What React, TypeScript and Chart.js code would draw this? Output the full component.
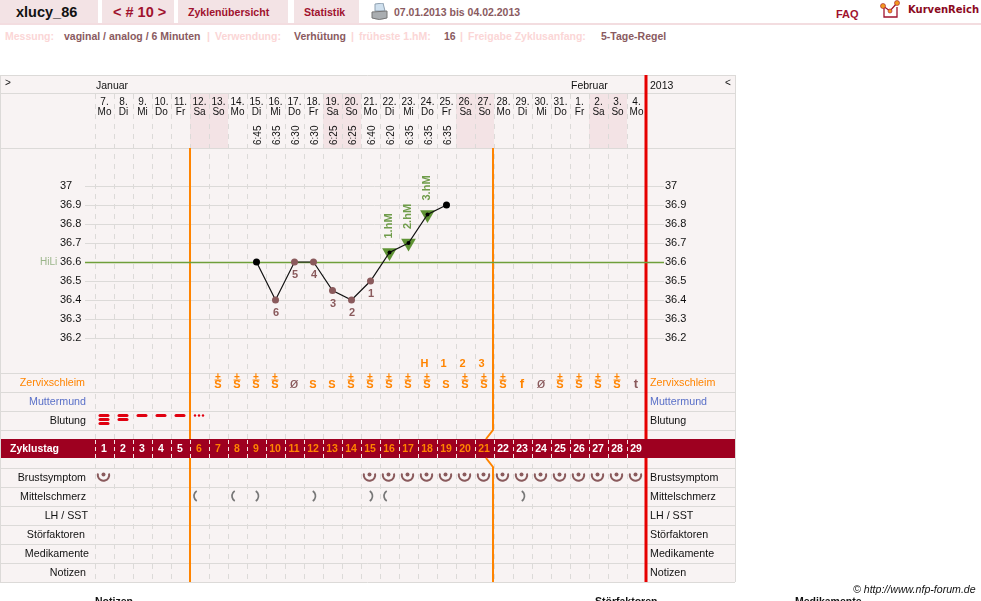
import React, { useEffect, useRef } from "react";
import { Chart, registerables } from "chart.js";

Chart.register(...registerables);

const dateDays = ["7.","8.","9.","10.","11.","12.","13.","14.","15.","16.","17.","18.","19.","20.","21.","22.","23.","24.","25.","26.","27.","28.","29.","30.","31.","1.","2.","3.","4."];
const weekdays = ["Mo","Di","Mi","Do","Fr","Sa","So","Mo","Di","Mi","Do","Fr","Sa","So","Mo","Di","Mi","Do","Fr","Sa","So","Mo","Di","Mi","Do","Fr","Sa","So","Mo"];
const times = ["","","","","","","","","6:45","6:35","6:30","6:30","6:25","6:25","6:40","6:20","6:35","6:35","6:35","","","","","","","","","",""];
const temps: (number|null)[] = [null,null,null,null,null,null,null,null,36.6,36.4,36.6,36.6,36.45,36.4,36.5,36.65,36.7,36.85,36.9,null,null,null,null,null,null,null,null,null,null];
const pointKinds = ["","","","","","","","","k","m","m","m","m","m","m","k","k","k","k","","","","","","","","","",""];
const lowLabels = ["","","","","","","","","","6","5","4","3","2","1","","","","","","","","","","","","","",""];
const peakTemps: (number|null)[] = [null,null,null,null,null,null,null,null,null,null,null,null,null,null,null,36.65,36.7,36.85,null,null,null,null,null,null,null,null,null,null,null];
const peakLabels = ["","","","","","","","","","","","","","","","1.hM","2.hM","3.hM","","","","","","","","","","",""];
const mucusCodes = ["","","","","","","S+","S+","S+","S+","ø","S","S","S+","S+","S+","S+","S+","S","S+","S+","S+","f","ø","S+","S+","S+","S+","t"];
const peakRow = ["","","","","","","","","","","","","","","","","","H","1","2","3","","","","","","","",""];
const bleeding = [3,2,1,1,1,-1,0,0,0,0,0,0,0,0,0,0,0,0,0,0,0,0,0,0,0,0,0,0,0];
const breast = [1,0,0,0,0,0,0,0,0,0,0,0,0,0,1,1,1,1,1,1,1,1,1,1,1,1,1,1,1];
const midPain = ["","","","","","(","","(",")","","",")","","",")","(","","","","","","",")","","","","","",""];
const cycleDays = ["1","2","3","4","5","6","7","8","9","10","11","12","13","14","15","16","17","18","19","20","21","22","23","24","25","26","27","28","29"];
const temperatureTicks = [36.2,36.3,36.4,36.5,36.6,36.7,36.8,36.9,37];
const coverLine = 36.6;
const weekendDays = ["Sa","So"];
const rowLinesY = [75,93,148,373,392,411,430,468,487,506,525,544,563,582];
const leftRows: [string,number,string,number][] = [["Zervixschleim",382,"#ff8400",85],["Muttermund",401,"#5a70c8",86],["Blutung",420,"#111",86],["Brustsymptom",477,"#111",86],["Mittelschmerz",496,"#111",86],["LH / SST",515,"#111",88],["Störfaktoren",534,"#111",85],["Medikamente",553,"#111",89],["Notizen",572,"#111",86]];

const ORANGE = "#ff8400";
const BAND = "#9e0020";
const RED = "#e60000";
const GRID = "#dcdad8";
const PANEL = "#f8f3f3";
const WEEKEND = "#f3e3e5";
const BROWN = "#8a5a5c";
const GREEN = "#5f9334";
const ARIAL = "'Liberation Sans', Arial, sans-serif";

const tablePlugin = {
  id: "table",
  beforeDraw(chart: any) {
    const { ctx, scales } = chart;
    const x = scales.x;
    const y = scales.y;
    const colW = x.getPixelForValue(1) - x.getPixelForValue(0);
    const L = x.left;
    const R = x.right;
    ctx.save();
    ctx.fillStyle = PANEL;
    ctx.fillRect(0, 75, 735, 507);
    weekdays.forEach((d, i) => {
      if (weekendDays.includes(d)) {
        ctx.fillStyle = WEEKEND;
        ctx.fillRect(x.getPixelForValue(i) - colW / 2, 94, colW, 54);
      }
    });
    ctx.strokeStyle = GRID;
    ctx.lineWidth = 1;
    rowLinesY.forEach((ry) => {
      ctx.beginPath();
      ctx.moveTo(0, ry + 0.5);
      ctx.lineTo(735, ry + 0.5);
      ctx.stroke();
    });
    ctx.beginPath();
    ctx.moveTo(0.5, 75); ctx.lineTo(0.5, 582);
    ctx.moveTo(735.5, 75); ctx.lineTo(735.5, 582);
    ctx.stroke();
    temperatureTicks.forEach((v) => {
      const py = Math.round(y.getPixelForValue(v)) + 0.5;
      ctx.beginPath();
      ctx.moveTo(85, py);
      ctx.lineTo(664, py);
      ctx.stroke();
    });
    ctx.setLineDash([5, 5]);
    for (let i = 0; i < 29; i++) {
      const gx = Math.round(L + i * colW) + 0.5;
      ctx.beginPath();
      ctx.moveTo(gx, 94);
      ctx.lineTo(gx, 582);
      ctx.stroke();
    }
    ctx.setLineDash([]);
    // cycle day band
    ctx.fillStyle = BAND;
    ctx.fillRect(1, 439, 734, 19);
    ctx.strokeStyle = "#f4e6e6";
    ctx.setLineDash([4, 3]);
    for (let i = 0; i < 29; i++) {
      const gx = Math.round(L + i * colW) + 0.5;
      ctx.beginPath();
      ctx.moveTo(gx, 440);
      ctx.lineTo(gx, 458);
      ctx.stroke();
    }
    ctx.setLineDash([]);
    // orange phase lines
    ctx.strokeStyle = ORANGE;
    ctx.lineWidth = 2;
    const o1 = x.getPixelForValue(5) - colW / 2;
    const o2 = x.getPixelForValue(20) + colW / 2 - 1;
    ctx.beginPath();
    ctx.moveTo(o1, 148); ctx.lineTo(o1, 439);
    ctx.moveTo(o1, 458); ctx.lineTo(o1, 582);
    ctx.moveTo(o2, 148); ctx.lineTo(o2, 430); ctx.lineTo(o2 - 7, 439);
    ctx.moveTo(o2 - 7, 458); ctx.lineTo(o2, 467); ctx.lineTo(o2, 582);
    ctx.stroke();
    // red end line
    ctx.strokeStyle = RED;
    ctx.lineWidth = 3;
    ctx.beginPath();
    ctx.moveTo(R, 75); ctx.lineTo(R, 439);
    ctx.moveTo(R, 458); ctx.lineTo(R, 582);
    ctx.stroke();
    // cover line
    const hy = Math.round(y.getPixelForValue(coverLine)) + 0.5;
    ctx.strokeStyle = "#6f9f3a";
    ctx.lineWidth = 1.3;
    ctx.beginPath();
    ctx.moveTo(85, hy);
    ctx.lineTo(664, hy);
    ctx.stroke();
    ctx.restore();
  },
  afterDatasetsDraw(chart: any) {
    const { ctx, scales } = chart;
    const x = scales.x;
    const y = scales.y;
    ctx.save();
    ctx.textBaseline = "alphabetic";
    const text = (s: string, tx: number, ty: number, font: string, color: string, align: CanvasTextAlign = "center") => {
      ctx.font = font;
      ctx.fillStyle = color;
      ctx.textAlign = align;
      ctx.fillText(s, tx, ty);
    };
    // header labels
    text("Januar", 96, 89, `10.5px ${ARIAL}`, "#111", "left");
    text("Februar", 571, 89, `10.5px ${ARIAL}`, "#111", "left");
    text("2013", 650, 89, `10.5px ${ARIAL}`, "#111", "left");
    text(">", 5, 86, `10px ${ARIAL}`, "#111", "left");
    text("<", 725, 86, `10px ${ARIAL}`, "#111", "left");
    // times
    times.forEach((t, i) => {
      if (!t) return;
      ctx.save();
      ctx.translate(x.getPixelForValue(i) + 4.5, 145);
      ctx.rotate(-Math.PI / 2);
      text(t, 0, 0, `10px ${ARIAL}`, "#111", "left");
      ctx.restore();
    });
    // HiLi
    text("HiLi", 40, 265, `10px ${ARIAL}`, "#9bb58a", "left");
    // low temperature numbers
    lowLabels.forEach((t, i) => {
      if (!t || temps[i] == null) return;
      const px = x.getPixelForValue(i);
      const py = y.getPixelForValue(temps[i] as number);
      text(t, px + 0.5, py + 16, `bold 11px ${ARIAL}`, BROWN);
    });
    // hM labels
    peakLabels.forEach((t, i) => {
      if (!t || peakTemps[i] == null) return;
      ctx.save();
      ctx.translate(x.getPixelForValue(i) + 2.5, y.getPixelForValue(peakTemps[i] as number) - 14);
      ctx.rotate(-Math.PI / 2);
      text(t, 0, 0, `bold 11px ${ARIAL}`, "#6f9c4a", "left");
      ctx.restore();
    });
    // peak day row
    peakRow.forEach((t, i) => {
      if (t) text(t, x.getPixelForValue(i) - 3, 367, `bold 11px ${ARIAL}`, ORANGE);
    });
    // mucus
    mucusCodes.forEach((c, i) => {
      if (!c) return;
      const px = x.getPixelForValue(i) - 0.5;
      const base = c[0];
      const color = base === "ø" || base === "t" ? BROWN : ORANGE;
      const font = base === "ø" ? `15px ${ARIAL}` : base === "S" ? `bold 11px ${ARIAL}` : `bold 13px ${ARIAL}`;
      text(base, px, 388, font, color);
      if (c.length > 1) {
        ctx.fillStyle = ORANGE;
        ctx.fillRect(px - 3.5, 379.5, 7, 1);
        text("+", px, 379.5, `bold 10px ${ARIAL}`, ORANGE);
      }
    });
    // bleeding
    ctx.strokeStyle = "#e00010";
    ctx.lineCap = "round";
    bleeding.forEach((b, i) => {
      if (!b) return;
      const px = x.getPixelForValue(i) - 0.5;
      if (b < 0) {
        ctx.fillStyle = "#e00010";
        [-4, 0, 4].forEach((d) => {
          ctx.beginPath();
          ctx.arc(px + d, 415.5, 1.2, 0, Math.PI * 2);
          ctx.fill();
        });
        return;
      }
      const rows = b === 3 ? [415.5, 419.5, 423.5] : b === 2 ? [415.5, 419.5] : [415.5];
      ctx.lineWidth = 3;
      rows.forEach((ry) => {
        ctx.beginPath();
        ctx.moveTo(px - 4, ry);
        ctx.lineTo(px + 4, ry);
        ctx.stroke();
      });
    });
    ctx.lineCap = "butt";
    // band labels
    text("Zyklustag", 10, 452, `bold 10.5px ${ARIAL}`, "#fff", "left");
    cycleDays.forEach((d, i) => {
      const color = i >= 5 && i <= 20 ? ORANGE : "#fff";
      text(d, x.getPixelForValue(i) - 0.5, 452, `bold 10.5px ${ARIAL}`, color);
    });
    // breast symbol
    breast.forEach((b, i) => {
      if (!b) return;
      const px = x.getPixelForValue(i) - 1;
      ctx.strokeStyle = BROWN;
      ctx.fillStyle = BROWN;
      ctx.lineWidth = 2;
      ctx.beginPath();
      ctx.arc(px, 475, 5.7, -0.25, Math.PI + 0.25);
      ctx.stroke();
      ctx.beginPath();
      ctx.arc(px, 474.5, 2, 0, Math.PI * 2);
      ctx.fill();
    });
    // mid pain
    midPain.forEach((m, i) => {
      if (!m) return;
      const c = x.getPixelForValue(i);
      const px = m === "(" ? c - 5.5 : c + 2;
      ctx.strokeStyle = "#777";
      ctx.lineWidth = 1.7;
      ctx.beginPath();
      if (m === "(") ctx.arc(px + 6, 496, 6, Math.PI - 1, Math.PI + 1);
      else ctx.arc(px - 6, 496, 6, -1, 1);
      ctx.stroke();
    });
    // row labels
    leftRows.forEach(([s, ry, color, rightEdge]) => {
      text(s, rightEdge, ry + 4, `10.7px ${ARIAL}`, color, "right");
      text(s, 650, ry + 4, `10.7px ${ARIAL}`, color, "left");
    });
    ctx.restore();
  },
};

const tickLabel = (v: any) => (Number(v) === 37 ? "37" : Number(v).toFixed(1));

export default function App() {
  const ref = useRef<HTMLCanvasElement | null>(null);
  useEffect(() => {
    document.body.style.margin = "0";
    const chart = new Chart(ref.current as HTMLCanvasElement, {
      type: "line",
      data: {
        labels: dateDays.map((d, i) => [d, weekdays[i]]) as any,
        datasets: [
          {
            label: "Temperatur",
            data: temps as any,
            spanGaps: false,
            borderColor: "#111",
            borderWidth: 1.2,
            tension: 0,
            clip: false as any,
            pointStyle: "circle",
            pointRadius: pointKinds.map((k, i) => (peakTemps[i] != null ? 2 : k ? 3.5 : 0)),
            pointBorderWidth: 0,
            pointBackgroundColor: pointKinds.map((k) => (k === "m" ? BROWN : "#000")),
            order: 1,
          },
          {
            label: "Höhere Messung",
            data: peakTemps as any,
            showLine: false,
            pointStyle: "triangle",
            rotation: 180,
            pointRadius: 8.5,
            pointBorderWidth: 0,
            pointBackgroundColor: GREEN,
            order: 2,
          },
        ],
      },
      options: {
        responsive: false,
        animation: false,
        events: [],
        layout: { padding: { left: 60, right: 246, top: 95, bottom: 228 } },
        plugins: { legend: { display: false }, tooltip: { enabled: false }, title: { display: false } },
        scales: {
          x: {
            type: "category",
            position: "top",
            offset: true,
            grid: { display: false, drawTicks: false },
            border: { display: false },
            afterFit: (s: any) => { s.height = 53; },
            ticks: {
              autoSkip: false,
              maxRotation: 0,
              minRotation: 0,
              padding: 30,
              color: "#111",
              font: { family: ARIAL, size: 10, lineHeight: 1.08 },
            },
          },
          y: {
            type: "linear",
            position: "left",
            min: 36.0158,
            max: 37.2,
            grid: { display: false, drawTicks: false },
            border: { display: false },
            afterFit: (s: any) => { s.width = 35; },
            afterBuildTicks: (s: any) => { s.ticks = temperatureTicks.map((value) => ({ value })); },
            ticks: { crossAlign: "far", padding: 11, color: "#111", callback: tickLabel, font: { family: ARIAL, size: 11 } },
          },
          y2: {
            type: "linear",
            position: "right",
            min: 36.0158,
            max: 37.2,
            grid: { display: false, drawTicks: false },
            border: { display: false },
            afterFit: (s: any) => { s.width = 89; },
            afterBuildTicks: (s: any) => { s.ticks = temperatureTicks.map((value) => ({ value })); },
            ticks: { padding: 19, color: "#111", callback: tickLabel, font: { family: ARIAL, size: 11 } },
          },
        },
      },
      plugins: [tablePlugin],
    } as any);
    return () => chart.destroy();
  }, []);

  const abs = (left: number, top: number, extra: React.CSSProperties = {}): React.CSSProperties => ({
    position: "absolute", left, top, whiteSpace: "nowrap", fontFamily: ARIAL, ...extra,
  });
  const tab = (left: number, width: number): React.CSSProperties => ({
    position: "absolute", left, top: 0, width, height: 23, background: "#f3e3e5",
  });
  const pale = { fontSize: 10.5, fontWeight: 700, color: "#fbd6d6" };
  const mid = { fontSize: 10.5, fontWeight: 700, color: "#8a5a60" };
  const dark = "#a0122e";

  return (
    <div style={{ position: "absolute", left: 0, top: 0, width: 981, height: 601, overflow: "hidden", background: "#fff" }}>
      <div style={tab(0, 98)} />
      <div style={tab(102, 72)} />
      <div style={tab(178, 110)} />
      <div style={tab(294, 65)} />
      <div style={{ position: "absolute", left: 0, top: 23, width: 981, height: 2, background: "#f3dde0" }} />
      <div style={abs(16, 4, { fontSize: 14.5, fontWeight: 700, color: "#111" })}>xlucy_86</div>
      <div style={abs(113, 4, { fontSize: 14.5, fontWeight: 700, color: dark })}>{"< # 10 >"}</div>
      <div style={abs(188, 6, { fontSize: 10.6, fontWeight: 700, color: dark })}>Zyklenübersicht</div>
      <div style={abs(304, 6, { fontSize: 10.6, fontWeight: 700, color: dark })}>Statistik</div>
      <svg style={{ position: "absolute", left: 371, top: 3 }} width="17" height="18" viewBox="0 0 17 18">
        <path d="M4 1 L12 0 L14 8 L4 8 Z" fill="#cfe0ee" stroke="#8fa0b0" />
        <path d="M1 9 L16 8 L16 15 Q8 18 1 15 Z" fill="#a9adb0" stroke="#777" />
      </svg>
      <div style={abs(394, 6, { ...mid })}>07.01.2013 bis 04.02.2013</div>
      <div style={abs(836, 8, { fontSize: 11, fontWeight: 700, color: dark })}>FAQ</div>
      <svg style={{ position: "absolute", left: 880, top: 0 }} width="24" height="20" viewBox="0 0 24 20">
        <path d="M3 6 L10 11 L17 3 M4 8 V17 H17 V7" fill="none" stroke={dark} strokeWidth="1.3" />
        <circle cx="3" cy="6" r="2.5" fill="#f29a1f" stroke={dark} strokeWidth=".6" />
        <circle cx="10" cy="11" r="2" fill="#f29a1f" stroke={dark} strokeWidth=".6" />
        <circle cx="17" cy="3" r="2.5" fill="#f29a1f" stroke={dark} strokeWidth=".6" />
      </svg>
      <div style={abs(908, 4, { fontSize: 10, fontWeight: 700, color: "#8b0a1e", fontFamily: "'DejaVu Sans', sans-serif" })}>KurvenReich</div>

      <div style={abs(5, 30, pale)}>Messung:</div>
      <div style={abs(64, 30, mid)}>vaginal / analog / 6 Minuten</div>
      <div style={abs(207, 30, pale)}>|</div>
      <div style={abs(215, 30, pale)}>Verwendung:</div>
      <div style={abs(294, 30, mid)}>Verhütung</div>
      <div style={abs(351, 30, pale)}>|</div>
      <div style={abs(359, 30, pale)}>früheste 1.hM:</div>
      <div style={abs(444, 30, mid)}>16</div>
      <div style={abs(460, 30, pale)}>|</div>
      <div style={abs(468, 30, pale)}>Freigabe Zyklusanfang:</div>
      <div style={abs(601, 30, mid)}>5-Tage-Regel</div>

      <canvas ref={ref} width={981} height={601} style={{ position: "absolute", left: 0, top: 0, width: 981, height: 601 }} />

      <div style={abs(853, 583, { fontSize: 10.6, fontStyle: "italic", color: "#111" })}>© http://www.nfp-forum.de</div>
      <div style={abs(95, 595, { fontSize: 10.5, fontWeight: 700, color: "#111" })}>Notizen</div>
      <div style={abs(595, 595, { fontSize: 10.5, fontWeight: 700, color: "#111" })}>Störfaktoren</div>
      <div style={abs(795, 595, { fontSize: 10.5, fontWeight: 700, color: "#111" })}>Medikamente</div>
    </div>
  );
}
